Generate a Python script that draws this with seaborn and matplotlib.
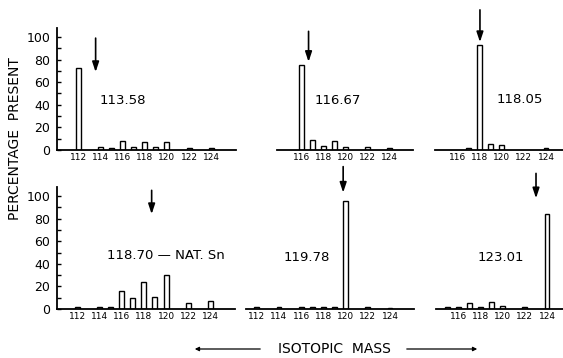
import matplotlib
matplotlib.use("Agg")
import matplotlib.pyplot as plt
import seaborn as sns
import pandas as pd

# ---------------- data ----------------
p1_mass = [112, 114, 115, 116, 117, 118, 119, 120, 122, 124]
p1_pct  = [73, 3, 2, 8, 3, 7, 3, 7, 2, 2]
p1_avg  = 113.58

p2_mass = [116, 117, 118, 119, 120, 122, 124]
p2_pct  = [75, 9, 3.5, 8, 3, 3, 1.5]
p2_avg  = 116.67

p3_mass = [117, 118, 119, 120, 124]
p3_pct  = [2, 93, 5, 4, 2]
p3_avg  = 118.05

p4_mass = [112, 114, 115, 116, 117, 118, 119, 120, 122, 124]
p4_pct  = [1.8, 1.8, 1.5, 15.5, 10, 23.5, 10.5, 30.5, 5, 7]
p4_avg  = 118.70

p5_mass = [112, 114, 116, 117, 118, 119, 120, 122, 124]
p5_pct  = [1.5, 1.5, 1.5, 1.5, 1.5, 1.5, 96, 1.5, 1.2]
p5_avg  = 119.78

p6_mass = [115, 116, 117, 118, 119, 120, 122, 124]
p6_pct  = [1.8, 1.8, 5.5, 1.8, 6, 3, 1.8, 84]
p6_avg  = 123.01

panel_labels = ["113.58", "116.67", "118.05", "118.70 \u2014 NAT. Sn", "119.78", "123.01"]
y_ticks = [0, 20, 40, 60, 80, 100]
ylabel = "PERCENTAGE  PRESENT"
xlabel = "ISOTOPIC  MASS"

# ---------------- layout ----------------
sns.set_style("white")
plt.rcParams['font.family'] = ['DejaVu Sans']
for k in ["text.color", "xtick.color", "ytick.color", "axes.labelcolor", "axes.edgecolor"]:
    plt.rcParams[k] = "black"
W, H = 563, 358
fig = plt.figure(figsize=(W / 100, H / 100), dpi=100)

PX_X = 11.1   # pixels per mass unit
PX_Y = 1.13   # pixels per percent
YTOP = 110

panels = [
    # mass, pct, avg, left px, baseline px, xlim, label pos (x data, y data), arrow (top, head), left axis?
    (p1_mass, p1_pct, p1_avg, 57, 150, (110.1, 126.2), (116.0, 44), (99, 69), True),
    (p2_mass, p2_pct, p2_avg, 276.7, 150, (113.8, 126.1), (119.3, 44), (105, 78), False),
    (p3_mass, p3_pct, p3_avg, 435, 150, (114.0, 125.6), (121.6, 45), (124, 95.5), False),
    (p4_mass, p4_pct, p4_avg, 57.3, 309, (110.2, 126.2), (119.95, 47), (105, 84), True),
    (p5_mass, p5_pct, p5_avg, 245.7, 309, (111.0, 126.2), (116.5, 46), (126, 103), False),
    (p6_mass, p6_pct, p6_avg, 436, 309, (114.0, 125.5), (119.8, 46), (120, 98), False),
]

for i, (mass, pct, avg, left, base, xlim, lpos, arr, yaxis) in enumerate(panels):
    wpx = (xlim[1] - xlim[0]) * PX_X
    hpx = YTOP * PX_Y
    ax = fig.add_axes([left / W, 1 - base / H, wpx / W, hpx / H])
    df = pd.DataFrame({"mass": mass, "pct": pct})
    sns.barplot(data=df, x="mass", y="pct", native_scale=True, width=0.45,
                color="white", edgecolor="black", linewidth=1.0, saturation=1,
                errorbar=None, ax=ax)
    ax.set_xlim(*xlim)
    ax.set_ylim(0, YTOP)
    ax.set_xlabel("")
    ax.set_ylabel("")
    ax.patch.set_alpha(0)
    ax.set_xticks(list(range(112, 125, 2)) if xlim[0] < 112 else [t for t in range(116, 125, 2)])
    ax.set_xticklabels([str(t) for t in ax.get_xticks()])
    ax.tick_params(axis="x", length=0, pad=2.5, labelsize=6.5, labelcolor="black")
    for s in ["top", "right"]:
        ax.spines[s].set_visible(False)
    ax.spines["bottom"].set_linewidth(1.3)
    ax.spines["bottom"].set_color("black")
    if yaxis:
        ax.spines["left"].set_visible(True)
        ax.spines["left"].set_linewidth(1.3)
        ax.spines["left"].set_color("black")
        ax.spines["left"].set_bounds(0, 108)
        ax.set_yticks(y_ticks)
        ax.set_yticks(list(range(10, 110, 20)), minor=True)
        ax.tick_params(axis="y", which="both", direction="in", length=3, width=1,
                       pad=5, labelsize=9, left=True, labelcolor="black", color="black")
    else:
        ax.spines["left"].set_visible(False)
        ax.set_yticks([])
    ax.text(lpos[0], lpos[1], panel_labels[i], ha="center", va="center", fontsize=9.5,
            color="black")
    ax.annotate("", xy=(avg, arr[1]), xytext=(avg, arr[0]),
                xycoords="data", textcoords="data", annotation_clip=False,
                arrowprops=dict(arrowstyle="-|>,head_length=0.6,head_width=0.2", color="black",
                                lw=1.2, mutation_scale=10, shrinkA=0, shrinkB=0))

fig.text(15 / W, 1 - 139 / H, ylabel, rotation=90, ha="center", va="center", fontsize=10,
         color="black")
fig.text(334 / W, 1 - 349 / H, xlabel, ha="center", va="center", fontsize=10, color="black")
fig.add_artist(matplotlib.patches.FancyArrowPatch((263 / W, 1 - 349 / H), (192 / W, 1 - 349 / H),
               transform=fig.transFigure, arrowstyle="-|>", mutation_scale=6, lw=0.9, color="black"))
fig.add_artist(matplotlib.patches.FancyArrowPatch((404 / W, 1 - 349 / H), (480 / W, 1 - 349 / H),
               transform=fig.transFigure, arrowstyle="-|>", mutation_scale=6, lw=0.9, color="black"))

fig.savefig("out.png", dpi=100)
